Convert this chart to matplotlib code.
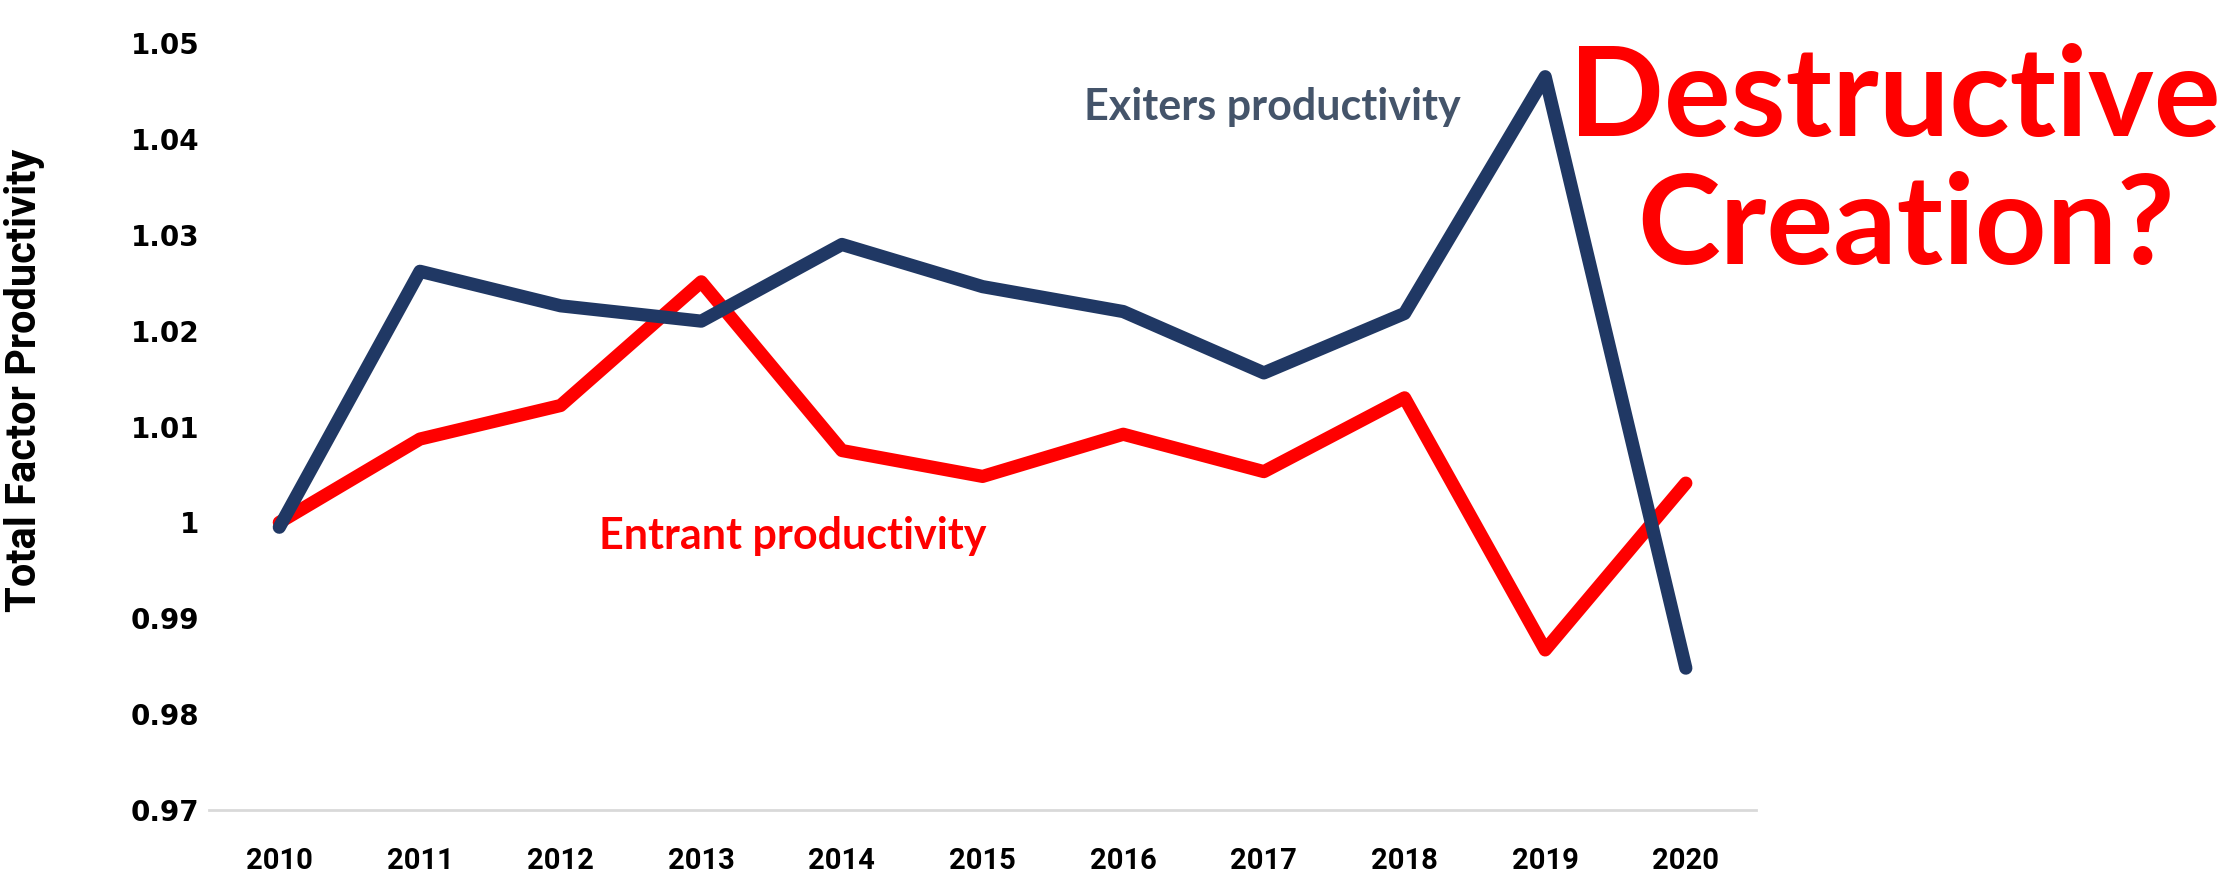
import matplotlib
matplotlib.use("Agg")
import matplotlib.pyplot as plt
from matplotlib import font_manager

years = ["2010", "2011", "2012", "2013", "2014", "2015",
         "2016", "2017", "2018", "2019", "2020"]
exiters = [0.9995, 1.0262, 1.0226, 1.0210, 1.0290, 1.0246,
           1.0220, 1.0156, 1.0218, 1.0465, 0.9848]
entrants = [1.0000, 1.0087, 1.0122, 1.0251, 1.0075, 1.0048,
            1.0092, 1.0053, 1.0130, 0.9867, 1.0041]
y_ticks = [0.97, 0.98, 0.99, 1.00, 1.01, 1.02, 1.03, 1.04, 1.05]
y_labels = ["0.97", "0.98", "0.99", "1", "1.01", "1.02", "1.03", "1.04", "1.05"]

NAVY = "#203864"
RED = "#ff0000"

installed = {f.name for f in font_manager.fontManager.ttflist}
narrow = next((f for f in ["Liberation Sans Narrow", "DejaVu Sans Condensed",
                           "Roboto"] if f in installed), "DejaVu Sans")

fig = plt.figure(figsize=(22.4, 8.81), dpi=100)
ax = fig.add_axes([0.0933, 0.0806, 0.6907, 0.8704])

x = list(range(len(years)))
ax.plot(x, entrants, color=RED, lw=9.5, solid_capstyle="round",
        solid_joinstyle="round", zorder=3)
ax.plot(x, exiters, color=NAVY, lw=9.5, solid_capstyle="round",
        solid_joinstyle="round", zorder=4)

ax.set_xlim(-0.5, len(years) - 0.5)
ax.set_ylim(0.97, 1.05)
ax.set_xticks(x)
ax.set_xticklabels(years, fontfamily=narrow, fontweight="bold", fontsize=21)
ax.set_yticks(y_ticks)
ax.set_yticklabels(y_labels, fontfamily="DejaVu Sans", fontweight="bold",
                   fontsize=20)
ax.tick_params(length=0)
ax.tick_params(axis="x", pad=27)
ax.tick_params(axis="y", pad=7)

for side in ["left", "right", "top"]:
    ax.spines[side].set_visible(False)
ax.spines["bottom"].set_color("#d9d9d9")
ax.spines["bottom"].set_linewidth(2)

ax.set_ylabel("Total Factor Productivity", fontfamily=narrow,
              fontweight="bold", fontsize=30)
ax.yaxis.set_label_coords(-0.106, 0.56)

fig.text(0.568, 0.878, "Exiters productivity", color="#44546a",
         fontfamily="Lato", fontweight="bold", fontsize=31,
         ha="center", va="center")
fig.text(0.354, 0.392, "Entrant productivity", color=RED,
         fontfamily="Lato", fontweight="bold", fontsize=31,
         ha="center", va="center")

# two-line headline, one baseline per line
fig.text(0.846, 0.846, "Destructive", color=RED, fontfamily="Lato",
         fontweight="bold", fontsize=90, ha="center", va="baseline")
fig.text(0.851, 0.700, "Creation?", color=RED, fontfamily="Lato",
         fontweight="bold", fontsize=90, ha="center", va="baseline")

fig.savefig("out.png", dpi=100, facecolor="white")
